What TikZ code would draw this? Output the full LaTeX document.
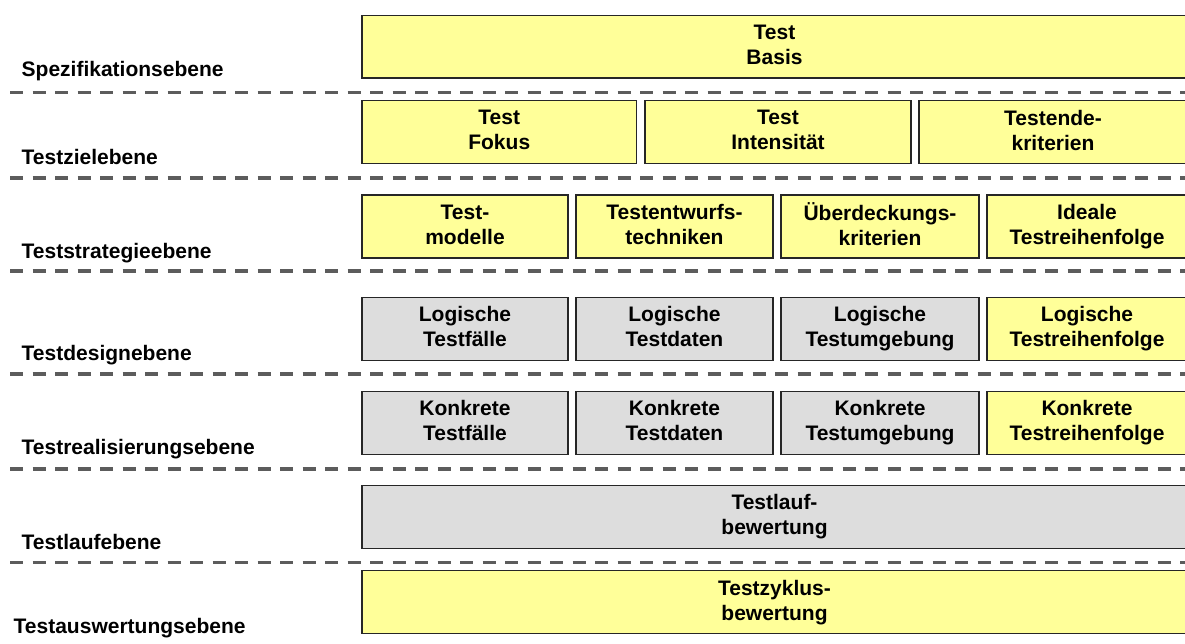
\documentclass[tikz,border=0pt]{standalone}
\usepackage{fontspec}
\setmainfont{Liberation Sans}
\usepackage{tikz}

\definecolor{gelb}{HTML}{FFFF99}
\definecolor{grau}{HTML}{DDDDDD}
\definecolor{strich}{HTML}{5C5C5C}

\tikzset{
	box/.style={draw=black!85, line width=1.2pt, inner sep=0pt, outer sep=0pt, minimum height=63pt, align=center, font=\fontsize{21}{25}\selectfont\bfseries,
		execute at begin node={\rule{0pt}{22pt}}, execute at end node={\rule[-4.4pt]{0pt}{4.4pt}}},
	gelbbox/.style={box, fill=gelb},
	graubox/.style={box, fill=grau},
	ebene/.style={anchor=base west, inner sep=0pt, font=\fontsize{21}{25}\selectfont\bfseries},
	trenn/.style={draw=strich, line width=3.3pt, dash pattern=on 13pt off 9.5pt}
}

\begin{document}
\begin{tikzpicture}[x=1pt, y=-1pt]
	\useasboundingbox (0,0) rectangle (1185,644);

	\node[gelbbox, minimum width=825pt, minimum height=62.5pt] (basis) at (774.5, 46.75) {Test\\Basis};

	\node[gelbbox, minimum width=274.5pt] (fokus) at (499.25, 132.2) {Test\\Fokus};
	\node[gelbbox, minimum width=266pt] (intens) at (778, 132.2) {Test\\Intensität};
	\node[gelbbox, minimum width=268pt] (endekrit) at (1053, 132.2) {Testende-\\kriterien};

	\node[gelbbox, minimum width=206pt] (modelle) at (465, 226.5) {Test-\\modelle};
	\node[gelbbox, minimum width=197pt] (entwurf) at (674.5, 226.5) {Testentwurfs-\\techniken};
	\node[gelbbox, minimum width=198pt] (ueberd) at (880, 226.5) {Überdeckungs-\\kriterien};
	\node[gelbbox, minimum width=200pt] (idealfolge) at (1087, 226.5) {Ideale\\Testreihenfolge};

	\node[graubox, minimum width=206pt] (logfaelle) at (465, 328.75) {Logische\\Testfälle};
	\node[graubox, minimum width=197pt] (logdaten) at (674.5, 328.75) {Logische\\Testdaten};
	\node[graubox, minimum width=198pt] (logumg) at (880, 328.75) {Logische\\Testumgebung};
	\node[gelbbox, minimum width=200pt] (logfolge) at (1087, 328.75) {Logische\\Testreihenfolge};

	\node[graubox, minimum width=206pt] (konfaelle) at (465, 422.85) {Konkrete\\Testfälle};
	\node[graubox, minimum width=197pt] (kondaten) at (674.5, 422.85) {Konkrete\\Testdaten};
	\node[graubox, minimum width=198pt] (konumg) at (880, 422.85) {Konkrete\\Testumgebung};
	\node[gelbbox, minimum width=200pt] (konfolge) at (1087, 422.85) {Konkrete\\Testreihenfolge};

	\node[graubox, minimum width=825pt] (lauf) at (774.5, 516.85) {Testlauf-\\bewertung};

	\node[gelbbox, minimum width=825pt] (zyklus) at (774.5, 602.15) {Testzyklus-\\bewertung};

	\node[ebene] (lspez) at (21.5, 76.5) {Spezifikationsebene};
	\node[ebene] (lziel) at (21.5, 164.5) {Testzielebene};
	\node[ebene] (lstrat) at (21.5, 258.5) {Teststrategieebene};
	\node[ebene] (ldesign) at (21.5, 360.5) {Testdesignebene};
	\node[ebene] (lreal) at (21.5, 454.5) {Testrealisierungsebene};
	\node[ebene] (llauf) at (21.5, 549) {Testlaufebene};
	\node[ebene] (lausw) at (13.5, 633.5) {Testauswertungsebene};

	\draw[trenn] (10, 92.5) -- (1185, 92.5);
	\draw[trenn] (10, 178) -- (1185, 178);
	\draw[trenn] (10, 271) -- (1185, 271);
	\draw[trenn] (10, 374) -- (1185, 374);
	\draw[trenn] (10, 469) -- (1185, 469);
	\draw[trenn] (10, 562.7) -- (1185, 562.7);

\end{tikzpicture}
\end{document}
